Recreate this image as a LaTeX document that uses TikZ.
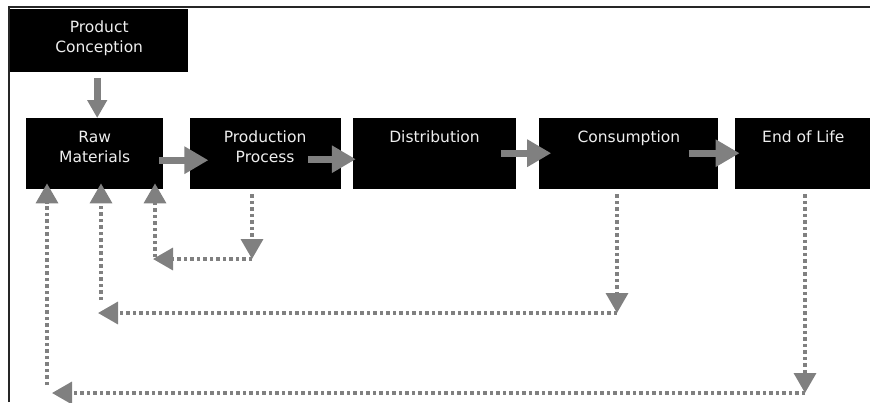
\documentclass[tikz,border=0pt]{standalone}
\usepackage{fontspec}
\setmainfont{DejaVu Sans}
\usepackage{tikz}
\usetikzlibrary{positioning,arrows.meta}
\definecolor{flowgray}{RGB}{128,128,128}
\definecolor{labelwhite}{RGB}{238,238,238}

\begin{document}
\begin{tikzpicture}[
    x=1pt, y=-1pt,
    stage/.style={rectangle, fill=black, text=labelwhite, align=center, inner xsep=0pt, inner ysep=0pt,
        text height=24pt, text depth=47pt, font=\fontsize{15.5}{20}\selectfont},
    twoline/.style={text height=44pt, text depth=27pt},
    flow/.style={draw=flowgray, line width=7pt, -{Triangle[length=24pt,width=26pt]}},
    back/.style={draw=flowgray, line width=3.5pt, dash pattern=on 3.5pt off 3pt, -{Triangle[length=20pt,width=22pt]}}
]
    \useasboundingbox (0,0) rectangle (870,402);
    % Frame
    \draw[line width=1.5pt, black!85] (9,402) -- (9,7) -- (870,7);

    % Nodes
    \node[stage, minimum width=178pt, text height=43pt, text depth=20pt, anchor=north west] (concept) at (10,9) {Product\\Conception};
    \node[stage, twoline, minimum width=137pt, anchor=north west] (raw) at (26,118) {Raw\\Materials};
    \node[stage, twoline, minimum width=151pt, right=26pt of raw] (process) {Production\\Process};
    \node[stage, minimum width=163pt, right=12pt of process] (distrib) {Distribution};
    \node[stage, minimum width=179pt, right=23pt of distrib] (consume) {Consumption};
    \node[stage, minimum width=137pt, right=16pt of consume] (eol) {End of Life};

    % Turning points of the return loops
    \coordinate (procturn) at (252,259);
    \coordinate (rawturnA) at (153,259);
    \coordinate (consturn) at (617,313);
    \coordinate (rawturnB) at (98,313);
    \coordinate (eolturn) at (805,393);
    \coordinate (rawturnC) at (52,393);

    % Arrows
    \draw[flow, -{Triangle[length=18pt,width=19pt]}] ([xshift=-2pt,yshift=-6pt]concept.south) -- ([xshift=2.5pt]raw.north);
    \draw[flow] ([xshift=-4pt,yshift=-6.5pt]raw.east) -- ([xshift=19pt,yshift=-6.5pt]process.west);
    \draw[flow] ([xshift=-33pt,yshift=-5.5pt]process.east) -- ([xshift=3pt,yshift=-5.5pt]distrib.west);
    \draw[flow] ([xshift=-15pt,yshift=0.5pt]distrib.east) -- ([xshift=12pt,yshift=0.5pt]consume.west);
    \draw[flow] ([xshift=-30pt,yshift=0.5pt]consume.east) -- ([xshift=5pt,yshift=0.5pt]eol.west);

    % Return loops
    \draw[back, shorten <=5pt] (process.south -| procturn) -- (procturn);
    \draw[back] (procturn) -- (rawturnA);
    \draw[back, shorten >=-6pt] ([xshift=2pt,yshift=2pt]rawturnA) -- ([xshift=2pt]rawturnA |- raw.south);

    \draw[back, shorten <=5pt] (consume.south -| consturn) -- (consturn);
    \draw[back] (consturn) -- (rawturnB);
    \draw[back, shorten >=-6pt] ([xshift=3pt,yshift=13pt]rawturnB) -- ([xshift=3pt]rawturnB |- raw.south);

    \draw[back, shorten <=5pt] (eol.south -| eolturn) -- (eolturn);
    \draw[back] (eolturn) -- (rawturnC);
    \draw[back, shorten >=-6pt] ([xshift=-5pt,yshift=8pt]rawturnC) -- ([xshift=-5pt]rawturnC |- raw.south);
\end{tikzpicture}
\end{document}
